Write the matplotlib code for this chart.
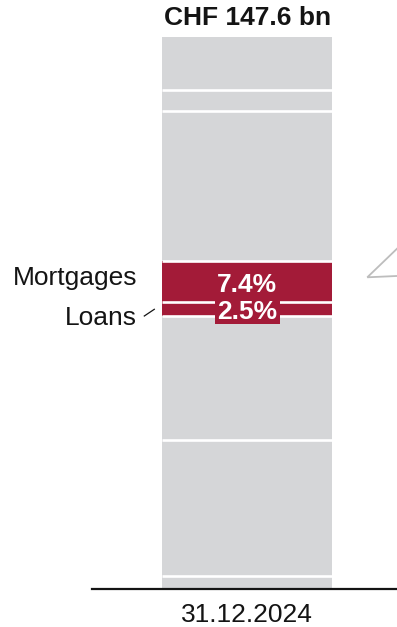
import matplotlib.pyplot as plt
from matplotlib.patches import Rectangle

plt.rcParams['font.family'] = ['Liberation Sans', 'DejaVu Sans']

# 포트폴리오 구성 비율 (아래에서 위로, %)
shares = [2.4, 24.6, 22.5, 2.5, 7.4, 27.2, 3.7, 9.7]
highlight = [False, False, False, True, True, False, False, False]
share_labels = ['', '', '', '2.5%', '7.4%', '', '', '']
seg_names = ['', '', '', 'Loans', 'Mortgages', '', '', '']
total_label = 'CHF 147.6 bn'
date_label = '31.12.2024'

GRAY = '#d5d6d8'
RED = '#a31b38'
INK = '#141414'
FS = 19

W, H = 397, 627
BASE_PX, TOP_PX = 589, 36.7      # 막대 아래/위 (픽셀)
CX_PX, BAR_PX = 247.3, 170       # 막대 중심, 폭 (픽셀)

fig = plt.figure(figsize=(W / 100, H / 100), dpi=100)
ax = fig.add_axes([0, (H - BASE_PX) / H, 1, (BASE_PX - TOP_PX) / H])
ax.set_xlim(-CX_PX / BAR_PX, (W - CX_PX) / BAR_PX)
ax.set_ylim(0, 100)
ax.axis('off')


def px(x, y):
    # 픽셀 위치 -> 데이터 좌표
    return (x - CX_PX) / BAR_PX, (BASE_PX - y) / (BASE_PX - TOP_PX) * 100


# 누적 막대
bottoms = []
acc = 0
for s in shares:
    bottoms.append(acc)
    acc += s
colors = [RED if h else GRAY for h in highlight]
ax.bar(0, shares, bottom=bottoms, width=1.0, color=colors, linewidth=0, zorder=1)

# 구간 사이 흰 선
for b in bottoms[1:]:
    ax.hlines(b, -0.5, 0.5, color='white', lw=1.9, zorder=2)

# 강조 구간 값 표시
for b, s, lab in zip(bottoms, shares, share_labels):
    if not lab:
        continue
    base = b + s / 2 - 1.9
    if s < 5:
        # 얇은 구간은 라벨 뒤에 배경 박스
        ax.add_patch(Rectangle((-0.191, base - 0.85), 0.382, 4.35,
                               facecolor=RED, edgecolor='none', zorder=3))
    ax.text(0, base, lab, ha='center', va='baseline', color='white',
            fontsize=FS, fontweight='bold', zorder=4)

# 왼쪽 구간 이름
lx, _ = px(137, 0)
ax.text(lx, px(0, 285)[1], seg_names[4], ha='right', va='baseline',
        fontsize=FS, color=INK)
ax.text(lx, px(0, 325)[1], seg_names[3], ha='right', va='baseline',
        fontsize=FS, color=INK)
p0, p1 = px(144.3, 316), px(154.3, 309.3)
ax.plot([p0[0], p1[0]], [p0[1], p1[1]], color=INK, lw=0.9, clip_on=False)

# 오른쪽 연결선
a, b1, c = px(367.3, 277.3), px(410, 236.2), px(410, 275.4)
ax.plot([b1[0], a[0], c[0]], [b1[1], a[1], c[1]], color='#bdbdbd', lw=1.3,
        clip_on=False, solid_joinstyle='miter')

# 합계, 기준선, 날짜
ax.text(0, px(0, 25)[1], total_label, ha='center', va='baseline',
        fontsize=FS, fontweight='bold', color=INK)
x0, _ = px(92, 0)
x1, _ = px(410, 0)
ax.plot([x0, x1], [0, 0], color=INK, lw=1.6, clip_on=False, zorder=5)
ax.text(0, px(0, 622)[1], date_label, ha='center', va='baseline',
        fontsize=FS, color=INK)

fig.savefig('out.png', dpi=100)
